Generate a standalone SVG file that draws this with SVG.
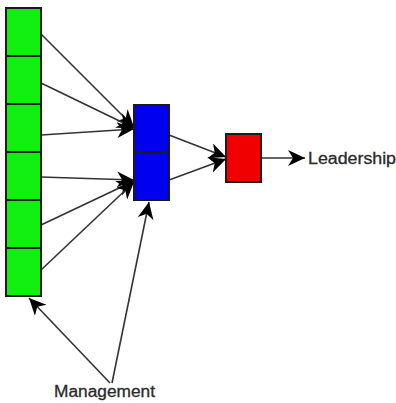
<svg xmlns="http://www.w3.org/2000/svg" width="396" height="403" viewBox="0 0 396 403">
  <style>
    .edge { stroke: #333; stroke-width: 1.6; fill: none; marker-end: url(#head); }
    .cell { stroke: #1a1a1a; stroke-width: 2; }
    .green { fill: #11f011; }
    .blue { fill: #0000f0; }
    .red { fill: #f00000; }
    .label { font-family: "Liberation Sans", Arial, sans-serif; font-size: 16px; fill: #2a2a2a; stroke: #2a2a2a; stroke-width: 0.3; }
  </style>
  <defs>
    <marker id="head" markerUnits="userSpaceOnUse" markerWidth="20" markerHeight="18" refX="17" refY="8" orient="auto">
      <path d="M0,0 L17,8 L0,16 L5,8 Z" fill="#000"/>
    </marker>
  </defs>
  <rect width="396" height="403" fill="#fff"/>

  <g id="connectors">
    <line class="edge" x1="41" y1="34" x2="134" y2="127"/>
    <line class="edge" x1="41" y1="83" x2="134" y2="128"/>
    <line class="edge" x1="41" y1="135" x2="134" y2="129"/>
    <line class="edge" x1="41" y1="177" x2="134" y2="180"/>
    <line class="edge" x1="41" y1="225" x2="134" y2="181"/>
    <line class="edge" x1="41" y1="270" x2="134" y2="182"/>
    <line class="edge" x1="169" y1="135" x2="226" y2="157"/>
    <line class="edge" x1="169" y1="180" x2="226" y2="159"/>
    <line class="edge" x1="261" y1="158" x2="305" y2="158"/>
    <line class="edge" x1="110" y1="383" x2="29" y2="298"/>
    <line class="edge" x1="112" y1="383" x2="149" y2="202"/>
  </g>

  <g id="input-layer">
    <rect class="cell green" x="6" y="8" width="35" height="48"/>
    <rect class="cell green" x="6" y="56" width="35" height="48"/>
    <rect class="cell green" x="6" y="104" width="35" height="48"/>
    <rect class="cell green" x="6" y="152" width="35" height="48"/>
    <rect class="cell green" x="6" y="200" width="35" height="48"/>
    <rect class="cell green" x="6" y="248" width="35" height="48"/>
  </g>

  <g id="hidden-layer">
    <rect class="cell blue" x="134" y="105" width="35" height="47"/>
    <rect class="cell blue" x="134" y="152" width="35" height="48"/>
  </g>

  <g id="output-node">
    <rect class="cell red" x="226" y="134" width="35" height="48"/>
  </g>

  <g id="leadership-label">
    <text class="label" x="308" y="164" textLength="88" lengthAdjust="spacingAndGlyphs">Leadership</text>
  </g>

  <g id="management-label">
    <text class="label" x="54" y="397" textLength="101" lengthAdjust="spacingAndGlyphs">Management</text>
  </g>
</svg>
